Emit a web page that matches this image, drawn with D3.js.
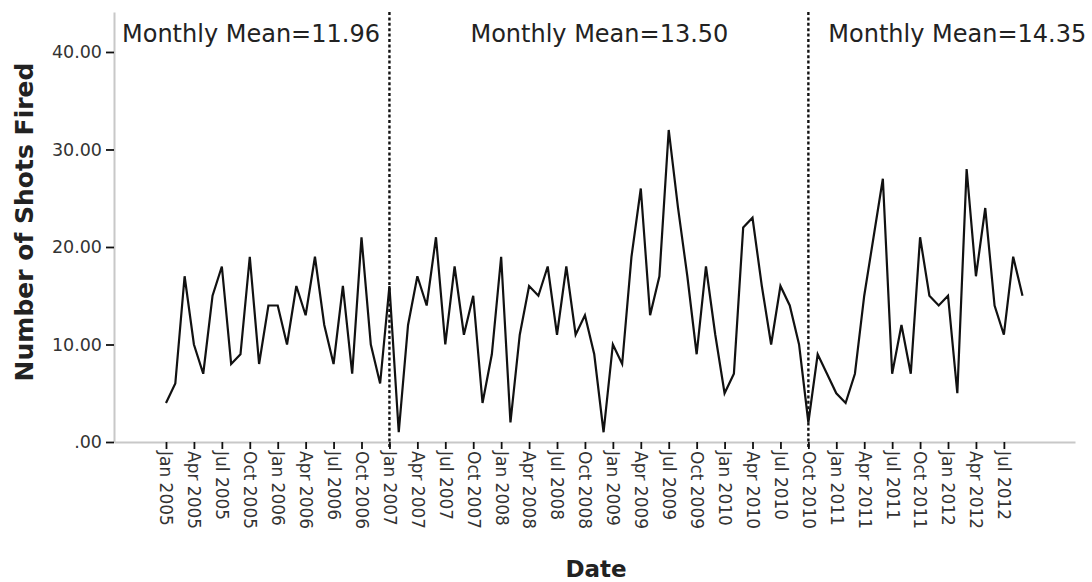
<!DOCTYPE html>
<html>
<head>
<meta charset="utf-8">
<script src="https://cdn.jsdelivr.net/npm/d3@7/dist/d3.min.js"></script>
<style>
  html, body { margin: 0; padding: 0; background: #fff; }
  svg { display: block; font-family: "DejaVu Sans", sans-serif; }
</style>
</head>
<body>
<div id="chart"></div>
<script>
// Monthly counts of shots fired, Jan 2005 – Sep 2012
const shots2005 = [4, 6, 17, 10, 7, 15, 18, 8, 9, 19, 8, 14];
const shots2006 = [14, 10, 16, 13, 19, 12, 8, 16, 7, 21, 10, 6];
const shots2007 = [16, 1, 12, 17, 14, 21, 10, 18, 11, 15, 4, 9];
const shots2008 = [19, 2, 11, 16, 15, 18, 11, 18, 11, 13, 9, 1];
const shots2009 = [10, 8, 19, 26, 13, 17, 32, 24, 17, 9, 18, 11];
const shots2010 = [5, 7, 22, 23, 16, 10, 16, 14, 10, 2, 9, 7];
const shots2011 = [5, 4, 7, 15, 21, 27, 7, 12, 7, 21, 15, 14];
const shots2012 = [15, 5, 28, 17, 24, 14, 11, 19, 15];

// Quarterly tick labels on the date axis
const tickLabels = [
  "Jan 2005", "Apr 2005", "Jul 2005", "Oct 2005",
  "Jan 2006", "Apr 2006", "Jul 2006", "Oct 2006",
  "Jan 2007", "Apr 2007", "Jul 2007", "Oct 2007",
  "Jan 2008", "Apr 2008", "Jul 2008", "Oct 2008",
  "Jan 2009", "Apr 2009", "Jul 2009", "Oct 2009",
  "Jan 2010", "Apr 2010", "Jul 2010", "Oct 2010",
  "Jan 2011", "Apr 2011", "Jul 2011", "Oct 2011",
  "Jan 2012", "Apr 2012", "Jul 2012"
];
const yTicks = [0, 10, 20, 30, 40];

// Period boundaries (month index) and the mean shown for each period
const periodBreaks = [24, 69];            // Jan 2007, Oct 2010
const periodLabels = ["Monthly Mean=11.96", "Monthly Mean=13.50", "Monthly Mean=14.35"];

const values = [].concat(shots2005, shots2006, shots2007, shots2008,
                         shots2009, shots2010, shots2011, shots2012);

const W = 1092, H = 582;
const plot = { left: 114, right: 1075, top: 12, bottom: 442 };

const svg = d3.select("#chart").append("svg")
  .attr("width", W).attr("height", H);

const x = d3.scaleLinear()
  .domain([-5.585, 97.64])
  .range([plot.left, plot.right]);

const y = d3.scaleLinear()
  .domain([0, 44.1])
  .range([plot.bottom, plot.top]);

// Y axis
const yAxis = svg.append("g")
  .attr("transform", `translate(${plot.left},0)`)
  .call(d3.axisLeft(y)
    .tickValues(yTicks)
    .tickSize(8)
    .tickSizeOuter(0)
    .tickPadding(4)
    .tickFormat(d => d === 0 ? ".00" : d3.format(".2f")(d)));

// X axis
const xAxis = svg.append("g")
  .attr("transform", `translate(0,${plot.bottom})`)
  .call(d3.axisBottom(x)
    .tickValues(tickLabels.map((_, i) => i * 3))
    .tickSize(7)
    .tickSizeOuter(0)
    .tickFormat(d => tickLabels[d / 3]));

[yAxis, xAxis].forEach(g => {
  g.select(".domain").attr("stroke", "#c8c8c8").attr("stroke-width", 2);
  g.selectAll(".tick line").attr("stroke", "#111").attr("stroke-width", 1.8);
  g.selectAll(".tick text")
    .attr("fill", "#333")
    .style("font-family", "'DejaVu Sans', sans-serif");
});
yAxis.selectAll(".tick text").style("font-size", "17.5px");
xAxis.selectAll(".tick text").style("font-size", "17px");

xAxis.selectAll(".tick text")
  .attr("x", 0).attr("y", 0).attr("dy", "0.36em")
  .attr("transform", "translate(0,9) rotate(90)")
  .style("text-anchor", "start");

// Period separators
svg.append("g").selectAll("line")
  .data(periodBreaks)
  .join("line")
  .attr("x1", d => x(d)).attr("x2", d => x(d))
  .attr("y1", plot.top).attr("y2", plot.bottom + 7)
  .attr("stroke", "#111")
  .attr("stroke-width", 2.4)
  .attr("stroke-dasharray", "3,2.4");

// Series line
svg.append("path")
  .datum(values)
  .attr("fill", "none")
  .attr("stroke", "#111")
  .attr("stroke-width", 2.2)
  .attr("stroke-linejoin", "miter")
  .attr("d", d3.line().x((d, i) => x(i)).y(d => y(d)));

// Period mean annotations
const labelX = [plot.left + 8, x(periodBreaks[0]) + 81, x(periodBreaks[1]) + 20];
svg.append("g").selectAll("text")
  .data(periodLabels)
  .join("text")
  .attr("x", (d, i) => labelX[i])
  .attr("y", 42)
  .attr("fill", "#222")
  .style("font-size", "24px")
  .text(d => d);

// Axis titles
svg.append("text")
  .attr("transform", `translate(33,222) rotate(-90)`)
  .attr("text-anchor", "middle")
  .attr("fill", "#222")
  .style("font-size", "25px")
  .style("font-weight", "bold")
  .text("Number of Shots Fired");

svg.append("text")
  .attr("x", 596)
  .attr("y", 577)
  .attr("text-anchor", "middle")
  .attr("fill", "#222")
  .style("font-size", "23px")
  .style("font-weight", "bold")
  .text("Date");
</script>
</body>
</html>
